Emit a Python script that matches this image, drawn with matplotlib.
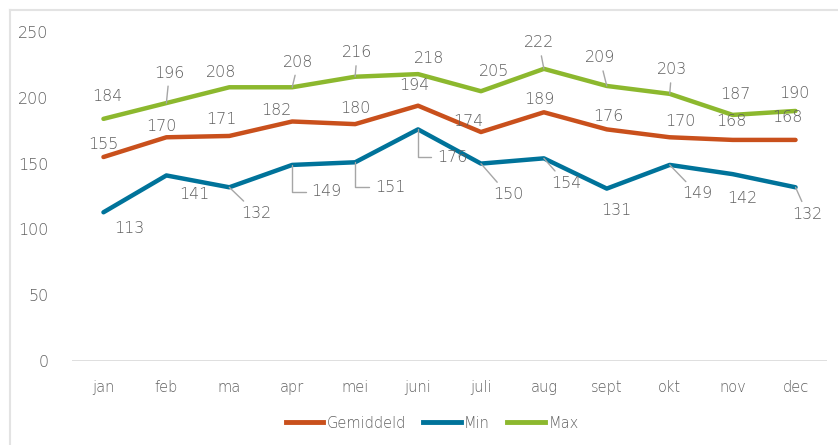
import numpy as np
import matplotlib
matplotlib.use("Agg")
import matplotlib.pyplot as plt
from matplotlib.lines import Line2D

plt.rcParams["font.weight"] = "light"

# data
months = ["jan", "feb", "ma", "apr", "mei", "juni", "juli", "aug", "sept", "okt", "nov", "dec"]
gemiddeld = [155, 170, 171, 182, 180, 194, 174, 189, 176, 170, 168, 168]
minimum = [113, 141, 132, 149, 151, 176, 150, 154, 131, 149, 142, 132]
maximum = [184, 196, 208, 208, 216, 218, 205, 222, 209, 203, 187, 190]
series_names = ["Gemiddeld", "Min", "Max"]

# label offsets in pixels (dx, dy) and leader style: 0 none, 1 straight, 2 elbow
off_gem = [(0, 13), (-5, 11), (-8, 16), (-16, 11), (0, 16), (-4, 20),
           (-13, 11), (-5, 13), (2, 13), (11, 16), (-1, 18), (-8, 22)]
lead_gem = [0] * 12
off_min = [(26, -16), (28, -19), (27, -26), (34, -27), (35, -25), (34, -28),
           (27, -31), (22, -25), (10, -22), (28, -29), (10, -24), (12, -27)]
lead_min = [0, 0, 1, 2, 2, 2, 1, 1, 0, 1, 0, 1]
off_max = [(4, 22), (3, 30), (-8, 15), (6, 25), (2, 24), (11, 16),
           (13, 20), (-5, 26), (-7, 28), (2, 24), (3, 20), (-1, 17)]
lead_max = [0, 1, 0, 1, 1, 0, 0, 1, 1, 1, 0, 0]

c_gem = "#c9501c"
c_min = "#00739a"
c_max = "#8cb82e"
grey = "#606060"

fig = plt.figure(figsize=(8.38, 4.45), dpi=100)
ax = fig.add_axes([72 / 838, 1 - 361 / 445, (827 - 72) / 838, (361 - 32) / 445])

x = np.arange(len(months))
ax.plot(x, gemiddeld, color=c_gem, lw=3.2, solid_capstyle="round", zorder=3)
ax.plot(x, minimum, color=c_min, lw=3.2, solid_capstyle="round", zorder=3)
ax.plot(x, maximum, color=c_max, lw=3.2, solid_capstyle="round", zorder=3)

ax.set_xlim(-0.5, 11.5)
ax.set_ylim(0, 250)
ax.set_yticks([0, 50, 100, 150, 200, 250])
ax.set_xticks(x)
ax.set_xticklabels(months)
for s in ["top", "right", "left", "bottom"]:
    ax.spines[s].set_visible(False)
ax.axhline(0, color="#d9d9d9", lw=1.2, zorder=1)
ax.tick_params(axis="both", length=0, colors=grey)
ax.tick_params(axis="y", labelsize=11.5, pad=17)
ax.tick_params(axis="x", labelsize=10.5, pad=14)


def label_series(vals, offs, leads):
    for i, v in enumerate(vals):
        dx, dy = offs[i]
        props = None
        if leads[i] == 1:
            props = dict(arrowstyle="-", color="#a6a6a6", lw=1, shrinkA=2, shrinkB=0)
        elif leads[i] == 2:
            props = dict(arrowstyle="-", color="#a6a6a6", lw=1, shrinkA=2, shrinkB=0,
                         connectionstyle="angle,angleA=0,angleB=90,rad=0")
        ax.annotate(str(v), xy=(i, v), xytext=(dx, dy), textcoords="offset pixels",
                    ha="center", va="center", fontsize=11.5, color=grey,
                    arrowprops=props, zorder=4)


label_series(gemiddeld, off_gem, lead_gem)
label_series(minimum, off_min, lead_min)
label_series(maximum, off_max, lead_max)

handles = [Line2D([0], [0], color=c, lw=3.5) for c in [c_gem, c_min, c_max]]
leg = fig.legend(handles, series_names, loc="center", bbox_to_anchor=(432 / 838, 1 - 423 / 445),
                 ncol=3, frameon=False, fontsize=10.5, handlelength=2.6, handletextpad=0.2,
                 columnspacing=1.2)
for t in leg.get_texts():
    t.set_color(grey)

# chart border
fig.add_artist(Line2D([10 / 838, 1], [1 - 10 / 445, 1 - 10 / 445], color="#e3e3e3", lw=1.5))
fig.add_artist(Line2D([10 / 838, 10 / 838], [0, 1 - 10 / 445], color="#e3e3e3", lw=1.5))

fig.savefig("out.png", dpi=100)
